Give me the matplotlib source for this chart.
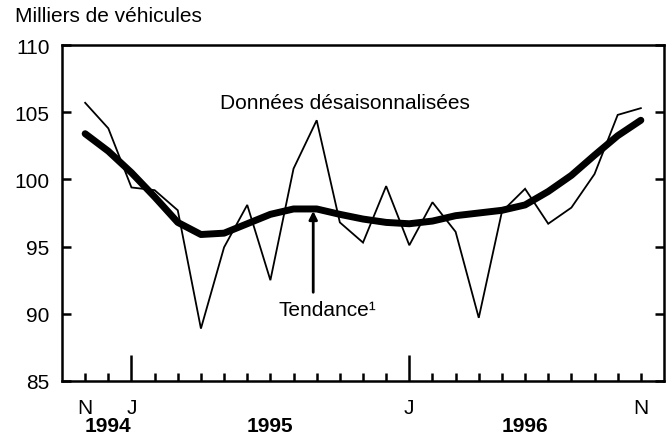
import matplotlib
matplotlib.use("Agg")
import matplotlib.pyplot as plt
import matplotlib.transforms as mtransforms

plt.rcParams['font.family'] = ['Liberation Sans', 'DejaVu Sans']

# months Nov 1994 .. Nov 1996 (index 0..24)
months = list(range(25))
sa_values = [105.7, 103.8, 99.4, 99.2, 97.7, 88.9, 94.95, 98.1, 92.5, 100.8,
             104.4, 96.8, 95.3, 99.5, 95.1, 98.3, 96.1, 89.7, 97.6, 99.3,
             96.7, 97.9, 100.4, 104.8, 105.3]
trend_values = [103.4, 102.1, 100.5, 98.7, 96.8, 95.9, 96.0, 96.7, 97.4, 97.8,
                97.8, 97.4, 97.05, 96.8, 96.7, 96.9, 97.3, 97.5, 97.7, 98.1,
                99.1, 100.3, 101.8, 103.25, 104.4]
yticks = [85, 90, 95, 100, 105, 110]
jan_ticks = [2, 14]
jan_labels = ['J', 'J']
nov_ticks = [0, 24]
years = ['1994', '1995', '1996']
year_pos = [1, 8, 19]

fig = plt.figure(figsize=(6.68, 4.39), dpi=100)
ax = fig.add_axes([62 / 668, 1 - 382 / 439, (664 - 62) / 668, (382 - 46) / 439])

ax.plot(months, sa_values, color='black', linewidth=1.3, solid_joinstyle='miter')
ax.plot(months, trend_values, color='black', linewidth=5, solid_capstyle='round')

ax.set_xlim(-1, 25)
ax.set_ylim(85, 110)
ax.set_yticks(yticks)
ax.set_yticklabels([str(v) for v in yticks])

ax.set_xticks(jan_ticks)
ax.set_xticklabels(jan_labels)
ax.set_xticks(months, minor=True)
ax.set_xticklabels(['N' if m in nov_ticks else '' for m in months], minor=True)

for s in ax.spines.values():
    s.set_linewidth(1.8)

ax.tick_params(axis='x', which='major', direction='in', length=19, width=1.8,
               labelsize=15, pad=12)
ax.tick_params(axis='x', which='minor', direction='in', length=6, width=1.8,
               labelsize=15, pad=12)
ax.tick_params(axis='y', direction='in', length=6.5, width=1.8, labelsize=15,
               left=True, right=True, pad=9)

trans = mtransforms.blended_transform_factory(ax.transData, ax.transAxes)
for yr, xp in zip(years, year_pos):
    ax.text(xp, -0.105, yr, transform=trans, ha='center', va='top',
            fontsize=15, fontweight='bold')

fig.text(15 / 668, 1 - 17 / 439, 'Milliers de véhicules', ha='left', va='center',
         fontsize=15)

ax.text(11.2, 105.75, 'Données désaisonnalisées', ha='center', va='center', fontsize=15)
ax.annotate('', xy=(9.85, 97.65), xytext=(9.85, 91.6),
            arrowprops=dict(arrowstyle='-|>', color='black', lw=2,
                            mutation_scale=12, shrinkA=0, shrinkB=0))
ax.text(10.46, 90.35, 'Tendance¹', ha='center', va='center', fontsize=15)

fig.savefig('out.png', dpi=100)
